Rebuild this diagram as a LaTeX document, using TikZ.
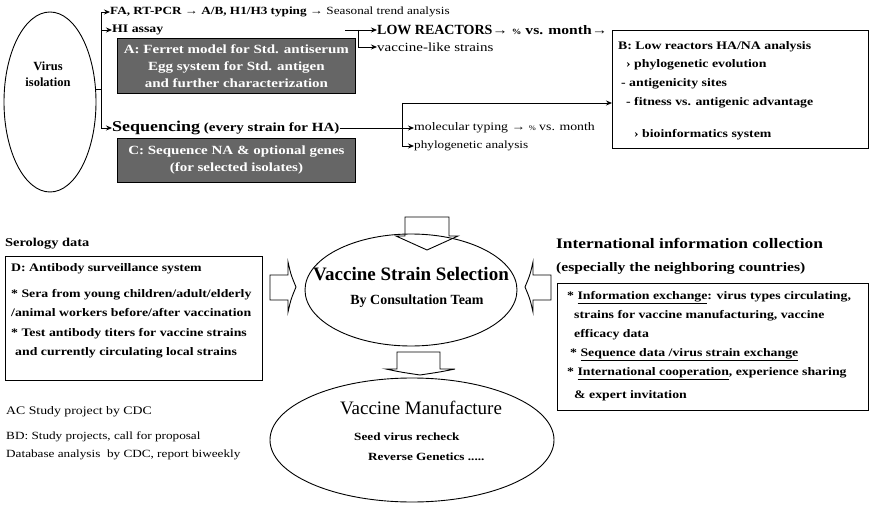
\documentclass[tikz,border=0pt]{standalone}
\usepackage{fontspec}
\setmainfont{Liberation Serif}
\newfontfamily\wideserif{Liberation Serif}[FakeStretch=1.2]
\usetikzlibrary{shapes.geometric,arrows.meta}
\newcommand{\fsz}[1]{\fontsize{#1}{#1}\selectfont}
\begin{document}
\begin{tikzpicture}[x=1pt,y=-1pt,
  wire/.style={line width=0.8pt},
  feed/.style={wire,-{Stealth[length=6pt,width=5pt]}},
  tb/.style={anchor=west,inner sep=0pt,font=\wideserif\bfseries\fsz{11}},
  tr/.style={anchor=west,inner sep=0pt,font=\wideserif\fsz{11}},
  panel/.style={draw,line width=0.8pt,anchor=north west,inner sep=0pt},
  paneltext/.style={anchor=north west,inner sep=0pt,align=left},
  shade/.style={draw=black,fill=black!60,line width=0.8pt,anchor=north west,inner sep=0pt,
    text=white,align=center,font=\wideserif\bfseries\fontsize{12.5}{17}\selectfont},
  blob/.style={ellipse,draw,line width=0.9pt,inner sep=0pt},
  blockarrow/.style={line width=0.9pt,line join=miter}]
\useasboundingbox (0,0) rectangle (875,513);

% ---------- isolation and first-line analyses ----------
\node[blob,minimum width=92pt,minimum height=180pt] (vi) at (50,102) {};
\node[align=center,font=\bfseries\fontsize{12.5}{16}\selectfont] (vit) at (48,74) {Virus\\isolation};

\coordinate (bt) at (101,12);
\coordinate (bb) at (101,128);

\node[tb] (fa) at (110,12) {FA, RT-PCR → A/B, H1/H3 typing → {\mdseries Seasonal trend analysis}};
\node[tb,font=\wideserif\bfseries\fsz{11.5}] (hi) at (112,30) {HI assay};
\node[shade,minimum width=238pt,minimum height=55pt] (boxA) at (117,38)
  {A: Ferret model for Std. antiserum\\Egg system for Std. antigen\\and further characterization};
\node[tb,font=\wideserif\bfseries\fsz{12.5}] (seq) at (112,128)
  {{\fsz{15}Sequencing} (every strain for HA)};
\node[shade,minimum width=238pt,minimum height=44pt] (boxC) at (117,138)
  {C: Sequence NA \& optional genes\\(for selected isolates)};

\draw[wire] (vi.15) -- (vi.15 -| bt);
\draw[wire] (bt) -- (bb);
\draw[feed] (bt) -- (fa.west);
\draw[feed] (bt |- hi.west) -- (hi.west);
\draw[feed] (bb) -- (seq.west);

% ---------- HI assay results ----------
\coordinate (hs) at (345,30);
\coordinate (hk) at (358,30);
\node[tb,font=\wideserif\bfseries\fsz{13}] (low) at (377,30)
  {{\normalfont\bfseries\fsz{14}LOW REACTORS}→ {\fsz{8}\%} vs. month→};
\node[tr,font=\wideserif\fsz{12.5}] (vl) at (377,47) {vaccine-like strains};
\draw[feed] (hs) -- (low.west);
\draw[feed] (hk) |- (vl.west);

% ---------- low reactor analysis ----------
\node[panel,minimum width=256pt,minimum height=118pt] (boxB) at (612,30) {};
\node[paneltext,font=\wideserif\bfseries\fontsize{11.5}{18.8}\selectfont] (boxBt)
  at ([shift={(6,11)}]boxB.north west)
  {B: Low reactors HA/NA analysis\\
   \hspace*{8pt}› phylogenetic evolution\\
   \hspace*{3pt}- antigenicity sites\\
   \hspace*{8pt}- fitness vs. antigenic advantage\\[13pt]
   \hspace*{16pt}› bioinformatics system};

% ---------- sequencing results ----------
\node[tr,font=\wideserif\fsz{11.5}] (mt) at (414,128) {molecular typing → {\fsz{7}\%} vs. month};
\node[tr] (pa) at (414,146) {phylogenetic analysis};
\coordinate (sb) at (402,103);
\draw[feed] (seq.east) -- (seq.east -| mt.west);
\draw[feed] (sb) |- (pa.west);
\draw[feed] (sb) -- (sb -| boxB.west);

% ---------- selection ----------
\node[blob,minimum width=212pt,minimum height=112pt] (vss) at (411,290) {};
\node[font=\bfseries\fsz{19}] (vsst) at (411,274) {Vaccine Strain Selection};
\node[font=\bfseries\fsz{14}] (vssb) at (417,301) {By Consultation Team};

% block arrows
\draw[blockarrow] (405,217) -- (405,236) -- (396,236) -- (427,250) -- (458,236)
  -- (449,236) -- (449,217) -- cycle;
\draw[blockarrow] (270,275) -- (288,275) -- (288,262) .. controls (291,275) .. (296,287)
  .. controls (291,299) .. (288,312) -- (288,300) -- (270,300) -- cycle;
\draw[blockarrow] (551,275) -- (533,275) -- (533,262) .. controls (530,275) .. (525,287)
  .. controls (530,299) .. (533,312) -- (533,300) -- (551,300) -- cycle;
\draw[blockarrow] (397,352) -- (397,369) -- (386,369) .. controls (400,372) .. (420,375)
  .. controls (440,372) .. (455,369) -- (440,369) -- (440,352) -- cycle;

% ---------- serology ----------
\node[tb,font=\wideserif\bfseries\fsz{12}] (sero) at (5,244) {Serology data};
\node[panel,minimum width=257pt,minimum height=124pt] (boxD) at (5,256) {};
\node[paneltext,font=\wideserif\bfseries\fontsize{11.5}{19.3}\selectfont] (boxDt)
  at ([shift={(6,7)}]boxD.north west)
  {D: Antibody surveillance system\\[7pt]
   {*} Sera from young children/adult/elderly\\
   /animal workers before/after vaccination\\
   {*} Test antibody titers for vaccine strains\\
   \hspace*{4pt}and currently circulating local strains};

% ---------- international information ----------
\node[tb,font=\wideserif\bfseries\fsz{14.5}] (intl) at (556,243) {International information collection};
\node[tb,font=\wideserif\bfseries\fsz{13}] (esp) at (556,268) {(especially the neighboring countries)};
\node[panel,minimum width=311pt,minimum height=127pt] (boxE) at (557,283) {};
\node[paneltext,font=\wideserif\bfseries\fontsize{11.5}{19}\selectfont] (boxEt)
  at ([shift={(6,8)}]boxE.north west)
  {\hspace*{4pt}{*} \underline{Information exchange}: virus types circulating,\\
   \hspace*{11pt}strains for vaccine manufacturing, vaccine\\
   \hspace*{11pt}efficacy data\\
   \hspace*{7pt}{*} \underline{Sequence data /virus strain exchange}\\
   \hspace*{4pt}{*} \underline{International cooperation}, experience sharing\\[4pt]
   \hspace*{11pt}\& expert invitation};

% ---------- manufacture ----------
\node[blob,minimum width=284pt,minimum height=124pt] (vm) at (412,440) {};
\node[font=\fsz{19}] (vmt) at (421,408) {Vaccine Manufacture};
\node[tb] (seed) at (354,437) {Seed virus recheck};
\node[tb] (rg) at (368,457) {Reverse Genetics .....};

% ---------- project notes ----------
\node[tr,font=\wideserif\fsz{11.5}] (ac) at (6,412) {AC Study project by CDC};
\node[tr] (bd) at (6,437) {BD: Study projects, call for proposal};
\node[tr] (db) at (6,455) {Database analysis\ \ by CDC, report biweekly};
\end{tikzpicture}
\end{document}
